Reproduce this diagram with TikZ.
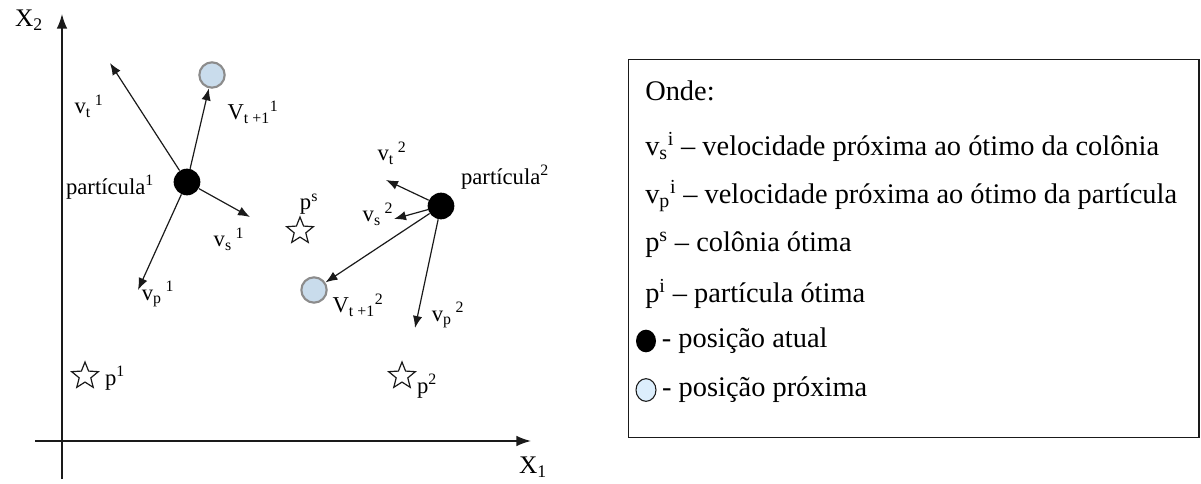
\documentclass[tikz,border=0pt]{standalone}
\usepackage{fontspec}
\setmainfont{Liberation Serif}
\newfontfamily\labelfont{Liberation Serif}
\usetikzlibrary{positioning,arrows.meta,shapes.geometric}
\definecolor{ink}{HTML}{1A1A1A}
\definecolor{nextfill}{HTML}{C9DCEC}
\definecolor{nextrim}{HTML}{8C8C8C}
\definecolor{legfill}{HTML}{DCEEFC}

\begin{document}
\begin{tikzpicture}[
  x=0.75pt,y=-0.75pt,
  font=\labelfont\fontsize{17}{19}\selectfont,
  vec/.style={-{Latex[length=9pt,width=7pt]},ink,line width=0.9pt},
  axis/.style={-{Latex[length=11pt,width=8pt]},ink,line width=1.2pt},
  cur/.style={circle,fill=black,minimum size=20pt,inner sep=0pt},
  nextpos/.style={circle,draw=nextrim,line width=1.6pt,fill=nextfill,minimum size=19pt,inner sep=0pt},
  best/.style={star,star points=5,star point ratio=2.3,draw=ink,line width=0.9pt,minimum size=21pt,inner sep=0pt},
  lbl/.style={inner sep=1pt},
  legbox/.style={draw=ink,line width=1pt,minimum width=428pt,minimum height=283pt,inner sep=0pt},
  legtext/.style={anchor=west,inner sep=0pt,font=\rmfamily\fontsize{21.3}{24}\selectfont}
]
\useasboundingbox (0,0) rectangle (1201,484);

% axes
\coordinate (ybot) at (62,479);
\coordinate (ytop) at (62,14);
\coordinate (xleft) at (35,441);
\coordinate (xright) at (531,441);
\draw[axis] (ybot) -- (ytop);
\draw[axis] (xleft) -- (xright);
\node[lbl,font=\labelfont\fontsize{19}{20}\selectfont] (xtwo) at (29,20) {X\textsubscript{2}};
\node[lbl,font=\labelfont\fontsize{19}{20}\selectfont] (xone) at (533,467) {X\textsubscript{1}};

% particles, next positions, bests
\node[cur] (part1) at (187,182) {};
\node[cur] (part2) at (441,206) {};
\node[nextpos] (next1) at (212,75) {};
\node[nextpos] (next2) at (314,290) {};
\node[best] (pbest1) at (85,376) {};
\node[best] (pbest2) at (402,376) {};
\node[best] (gbest) at (300,231) {};

% velocity ends
\coordinate (vt1) at (110,63);
\coordinate (vs1) at (250,217);
\coordinate (vp1) at (138,290);
\coordinate (vt2) at (386,180);
\coordinate (vs2) at (394,219);
\coordinate (vp2) at (415,328);

\draw[vec] (part1) -- (vt1);
\draw[vec] (part1) -- (next1);
\draw[vec] (part1) -- (vs1);
\draw[vec] (part1) -- (vp1);
\draw[vec] (part2) -- (vt2);
\draw[vec] (part2) -- (vs2);
\draw[vec] (part2) -- (next2);
\draw[vec] (part2) -- (vp2);

% labels
\node[lbl] (lvt1) at (89,106) {v\textsubscript{t}\,\textsuperscript{1}};
\node[lbl] (lnext1) at (253,112) {V\textsubscript{t +1}\textsuperscript{1}};
\node[lbl] (lpart1) at (110,187) {partícula\textsuperscript{1}};
\node[lbl] (lvs1) at (229,239) {v\textsubscript{s}\,\textsuperscript{1}};
\node[lbl] (lvp1) at (158,294) {v\textsubscript{p}\,\textsuperscript{1}};
\node[lbl] (lgbest) at (309,204) {p\textsuperscript{s}};
\node[lbl] (lpart2) at (505,177) {partícula\textsuperscript{2}};
\node[lbl] (lvt2) at (392,153) {v\textsubscript{t}\,\textsuperscript{2}};
\node[lbl] (lvs2) at (378,214) {v\textsubscript{s}\,\textsuperscript{2}};
\node[lbl] (lnext2) at (358,305) {V\textsubscript{t +1}\textsuperscript{2}};
\node[lbl] (lvp2) at (448,315) {v\textsubscript{p}\,\textsuperscript{2}};
\node[lbl] (lpbest1) at (115,378) {p\textsuperscript{1}};
\node[lbl] (lpbest2) at (427,386) {p\textsuperscript{2}};

% legend
\node[legbox] (legend) at (913.5,248.5) {};
\node[legtext] (onde) at (645,91) {Onde:};
\node[legtext] (keyvs) at (645,147) {v\textsubscript{s}\textsuperscript{i} – velocidade próxima ao ótimo da colônia};
\node[legtext] (keyvp) at (645,196) {v\textsubscript{p}\textsuperscript{i} – velocidade próxima ao ótimo da partícula};
\node[legtext] (keyps) at (645,245) {p\textsuperscript{s} – colônia ótima};
\node[legtext] (keypi) at (645,294) {p\textsuperscript{i} – partícula ótima};
\node[ellipse,fill=black,minimum width=15pt,minimum height=17pt,inner sep=0pt] (keycur) at (646,341) {};
\node[legtext,right=4pt of keycur] (keycurtext) {- posição atual};
\node[ellipse,draw=ink,line width=0.8pt,fill=legfill,minimum width=15pt,minimum height=17pt,inner sep=0pt] (keynext) at (646,390) {};
\node[legtext,right=4pt of keynext] (keynexttext) {- posição próxima};
\end{tikzpicture}
\end{document}
